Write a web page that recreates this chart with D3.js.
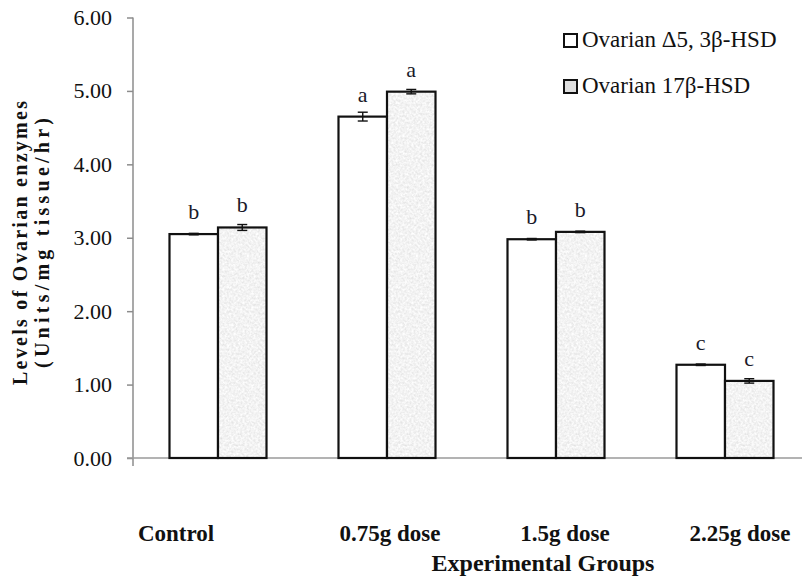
<!DOCTYPE html>
<html>
<head>
<meta charset="utf-8">
<script src="https://cdn.jsdelivr.net/npm/d3@7"></script>
<style>
	html, body { margin: 0; padding: 0; background: #fff; }
	svg { display: block; }
</style>
</head>
<body>
<svg id="chart"></svg>
<script>
//
// Ovarian enzyme levels per experimental group, grouped bars with error bars
//
const groups = ["Control", "0.75g dose", "1.5g dose", "2.25g dose"];
const seriesNames = ["Ovarian \u03945, 3\u03b2-HSD", "Ovarian 17\u03b2-HSD"];
const hsd3b = [3.05, 4.65, 2.98, 1.27];
const hsd3bErr = [0.01, 0.06, 0.01, 0.01];
const hsd17b = [3.14, 4.99, 3.08, 1.05];
const hsd17bErr = [0.04, 0.03, 0.01, 0.03];
const letters3b = ["b", "a", "b", "c"];
const letters17b = ["b", "a", "b", "c"];
const yTicks = [0, 1, 2, 3, 4, 5, 6];

const width = 802;
const height = 578;
const serif = "Liberation Serif, Times New Roman, serif";

const svg = d3.select("#chart").attr("width", width).attr("height", height);

const defs = svg.append("defs");
const grain = defs
	.append("filter")
	.attr("id", "grain")
	.attr("x", 0)
	.attr("y", 0)
	.attr("width", 1)
	.attr("height", 1);
grain
	.append("feTurbulence")
	.attr("type", "fractalNoise")
	.attr("baseFrequency", 0.45)
	.attr("numOctaves", 2)
	.attr("seed", 7)
	.attr("result", "noise");
grain
	.append("feColorMatrix")
	.attr("in", "noise")
	.attr("type", "matrix")
	.attr("values", "0.35 0 0 0 0.72  0.35 0 0 0 0.72  0.35 0 0 0 0.72  0 0 0 0 1")
	.attr("result", "tone");
grain
	.append("feComposite")
	.attr("in", "tone")
	.attr("in2", "SourceGraphic")
	.attr("operator", "in");

const data = groups.map((g, i) => ({
	group: g,
	bars: [
		{ key: 0, value: hsd3b[i], err: hsd3bErr[i], letter: letters3b[i] },
		{ key: 1, value: hsd17b[i], err: hsd17bErr[i], letter: letters17b[i] },
	],
}));

const x = d3
	.scaleBand()
	.domain(groups)
	.range([133.5, 809.5])
	.paddingInner(0.426)
	.paddingOuter(0.213);

const xSub = d3.scaleBand().domain([0, 1]).range([0, x.bandwidth()]);

const y = d3.scaleLinear().domain([0, 6]).range([458, 17.5]);

// y axis
const yAxis = svg
	.append("g")
	.attr("transform", "translate(133,0)")
	.call(
		d3
			.axisLeft(y)
			.tickValues(yTicks)
			.tickSize(6)
			.tickPadding(15)
			.tickFormat(d3.format(".2f")),
	);
yAxis.attr("font-family", serif).attr("font-size", 22);
yAxis.select(".domain").remove();
yAxis.selectAll(".tick line").attr("stroke", "#8c8c8c").attr("stroke-width", 1.5);
yAxis.selectAll(".tick text").attr("fill", "#111");

svg
	.append("line")
	.attr("x1", 133)
	.attr("x2", 133)
	.attr("y1", y(6))
	.attr("y2", 466)
	.attr("stroke", "#8c8c8c")
	.attr("stroke-width", 1.5);

svg
	.append("line")
	.attr("x1", 127)
	.attr("x2", width)
	.attr("y1", y(0))
	.attr("y2", y(0))
	.attr("stroke", "#9a9a9a")
	.attr("stroke-width", 1.5);

// bars
const groupSel = svg
	.append("g")
	.selectAll("g")
	.data(data)
	.enter()
	.append("g")
	.attr("transform", (d) => `translate(${x(d.group)},0)`);

const barSel = groupSel
	.selectAll("g")
	.data((d) => d.bars)
	.enter()
	.append("g");

barSel
	.filter((d) => d.key === 1)
	.append("rect")
	.attr("x", (d) => xSub(d.key))
	.attr("y", (d) => y(d.value))
	.attr("width", xSub.bandwidth())
	.attr("height", (d) => y(0) - y(d.value))
	.attr("fill", "#e2e2e2")
	.attr("filter", "url(#grain)");

barSel
	.append("rect")
	.attr("x", (d) => xSub(d.key))
	.attr("y", (d) => y(d.value))
	.attr("width", xSub.bandwidth())
	.attr("height", (d) => y(0) - y(d.value))
	.attr("fill", (d) => (d.key === 0 ? "#fff" : "none"))
	.attr("stroke", "#111")
	.attr("stroke-width", 2.2);

// error bars
const errSel = barSel.append("g").attr("stroke", "#111").attr("stroke-width", 1.4);
const cx = (d) => xSub(d.key) + xSub.bandwidth() / 2;
errSel
	.append("line")
	.attr("x1", cx)
	.attr("x2", cx)
	.attr("y1", (d) => y(d.value + d.err))
	.attr("y2", (d) => y(d.value - d.err));
errSel
	.append("line")
	.attr("x1", (d) => cx(d) - 5)
	.attr("x2", (d) => cx(d) + 5)
	.attr("y1", (d) => y(d.value + d.err))
	.attr("y2", (d) => y(d.value + d.err));
errSel
	.append("line")
	.attr("x1", (d) => cx(d) - 5)
	.attr("x2", (d) => cx(d) + 5)
	.attr("y1", (d) => y(d.value - d.err))
	.attr("y2", (d) => y(d.value - d.err));

// significance letters
barSel
	.append("text")
	.attr("x", cx)
	.attr("y", (d) => y(d.value) - 15)
	.attr("text-anchor", "middle")
	.attr("font-family", serif)
	.attr("font-size", 22)
	.attr("fill", "#1a1a2a")
	.text((d) => d.letter);

// x category labels
const labelShift = [-42, 3, 9, 15];
svg
	.append("g")
	.selectAll("text")
	.data(groups)
	.enter()
	.append("text")
	.attr("x", (d, i) => x(d) + x.bandwidth() / 2 + labelShift[i])
	.attr("y", 541)
	.attr("text-anchor", "middle")
	.attr("font-family", serif)
	.attr("font-weight", 700)
	.attr("font-size", 23)
	.attr("fill", "#111")
	.text((d) => d);

svg
	.append("text")
	.attr("x", 543)
	.attr("y", 571)
	.attr("text-anchor", "middle")
	.attr("font-family", serif)
	.attr("font-weight", 700)
	.attr("font-size", 24)
	.attr("fill", "#111")
	.text("Experimental Groups");

// y axis title
const yTitle = svg
	.append("g")
	.attr("transform", "translate(0,243) rotate(-90)")
	.attr("font-family", serif)
	.attr("font-weight", 700)
	.attr("font-size", 20)
	.attr("fill", "#111")
	.attr("text-anchor", "middle");
yTitle
	.append("text")
	.attr("x", 0)
	.attr("y", 27)
	.attr("textLength", 284)
	.attr("lengthAdjust", "spacing")
	.text("Levels of Ovarian enzymes");
yTitle
	.append("text")
	.attr("x", 0)
	.attr("y", 49)
	.attr("textLength", 250)
	.attr("lengthAdjust", "spacing")
	.text("(Units/mg tissue/hr)");

// legend
const legend = svg
	.append("g")
	.selectAll("g")
	.data(seriesNames)
	.enter()
	.append("g")
	.attr("transform", (d, i) => `translate(564,${34 + i * 46})`);
legend
	.append("rect")
	.attr("width", 13)
	.attr("height", 13)
	.attr("fill", (d, i) => (i === 0 ? "#fff" : "#dedede"))
	.attr("stroke", "#111")
	.attr("stroke-width", 2);
legend
	.append("text")
	.attr("x", 18)
	.attr("y", 13)
	.attr("font-family", serif)
	.attr("font-size", 23)
	.attr("fill", "#111")
	.text((d) => d);
</script>
</body>
</html>
